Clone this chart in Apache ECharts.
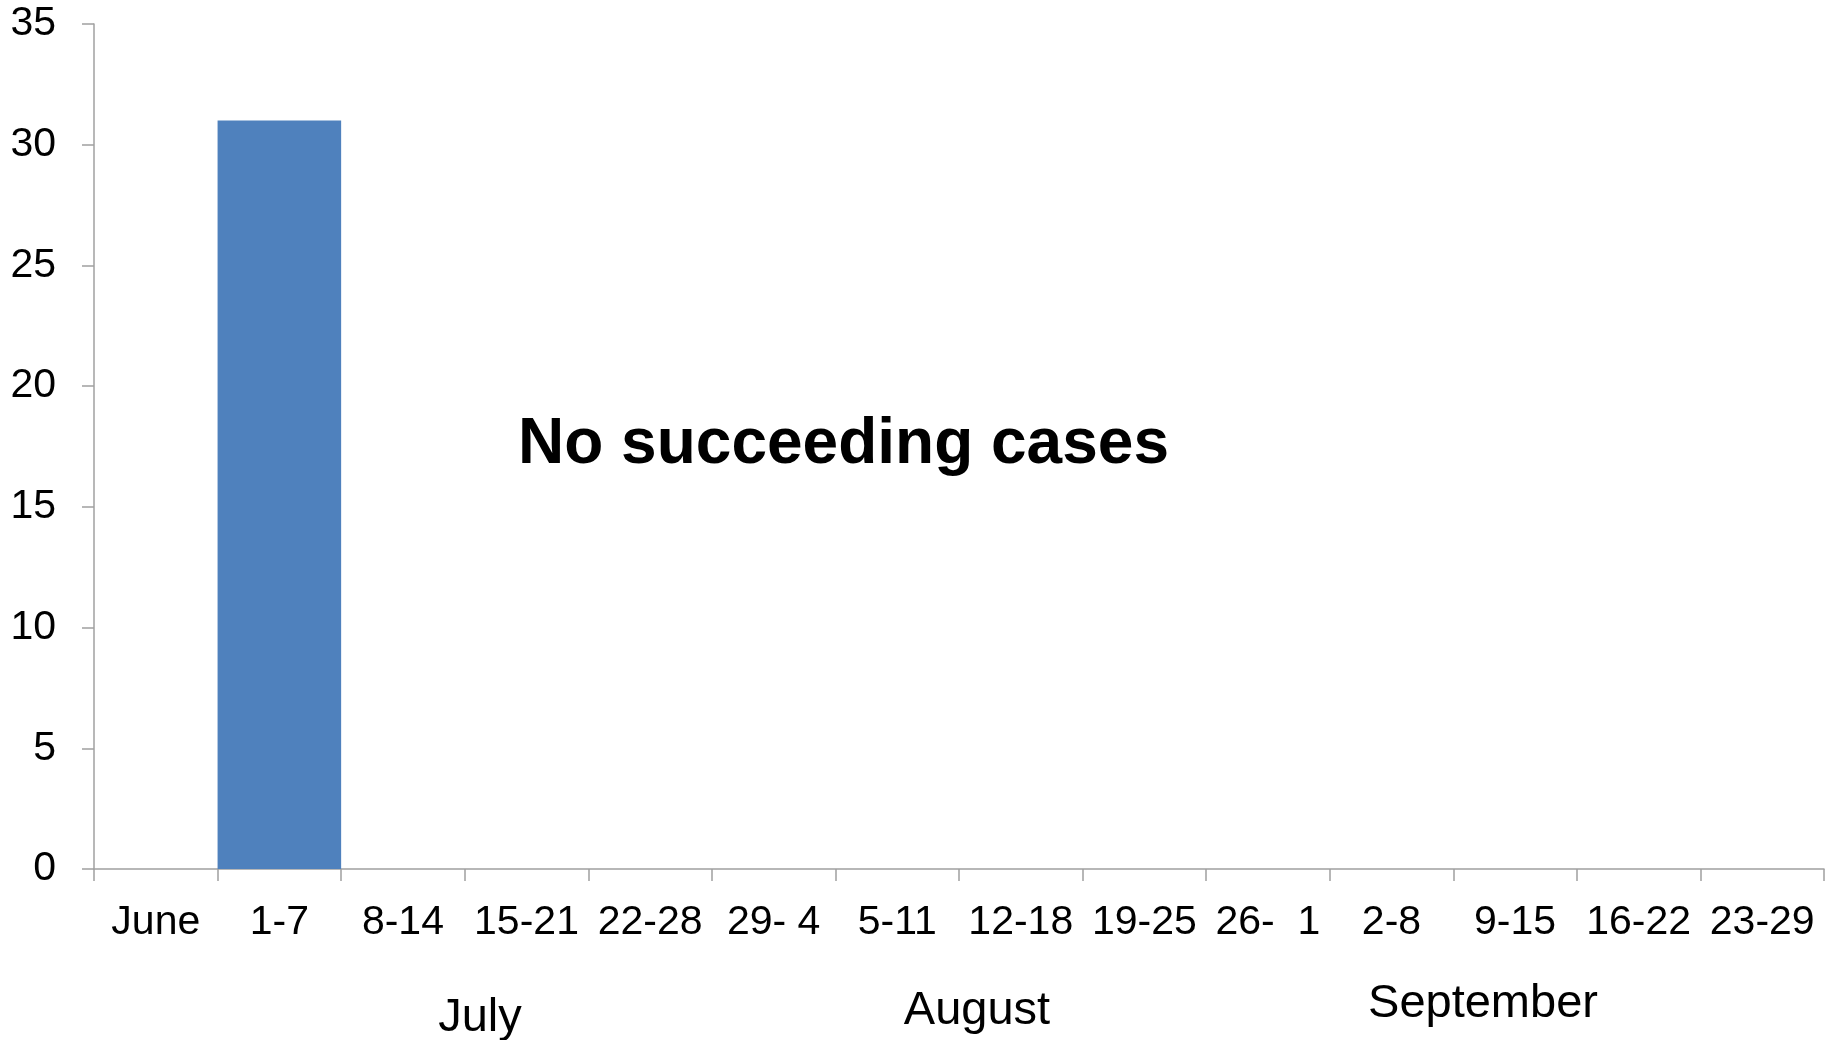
<!DOCTYPE html>
<html>
<head>
<meta charset="utf-8">
<script src="https://cdn.jsdelivr.net/npm/echarts@6/dist/echarts.min.js"></script>
<style>
  html, body { margin: 0; padding: 0; background: #ffffff; }
  #chart { width: 1837px; height: 1040px; }
</style>
</head>
<body>
<div id="chart"></div>
<script>
// ── Data ────────────────────────────────────────────────
const weeks = ["June", "1-7", "8-14", "15-21", "22-28", "29- 4", "5-11",
  "12-18", "19-25", "26-  1", "2-8", "9-15", "16-22", "23-29"];
const cases = [0, 31, 0, 0, 0, 0, 0, 0, 0, 0, 0, 0, 0, 0];
const yTicks = { min: 0, max: 35, step: 5 };
const months = ["July", "August", "September"];
const note = "No succeeding cases";

// ── Style ───────────────────────────────────────────────
const colores = {
  barra: "#4f81bd",
  eje: "#a0a0a0",
  texto: "#000000"
};
const fuente = "'Liberation Sans', Arial, sans-serif";

// month label anchors (pixels), same order as months
const monthPos = [[480, 1018], [977, 1011], [1483, 1004]];

const chart = echarts.init(document.getElementById("chart"));

const option = {
  backgroundColor: "#ffffff",
  animation: false,
  grid: { left: 94, right: 13, top: 24, bottom: 171, containLabel: false },
  xAxis: {
    type: "category",
    data: weeks,
    boundaryGap: true,
    axisLine: { show: true, lineStyle: { color: colores.eje, width: 1.5 } },
    axisTick: { show: true, length: 12, alignWithLabel: false, interval: 0,
      lineStyle: { color: colores.eje, width: 1.5 } },
    axisLabel: { interval: 0, margin: 33, color: colores.texto, fontSize: 41, fontFamily: fuente },
    splitLine: { show: false }
  },
  yAxis: {
    type: "value",
    min: yTicks.min,
    max: yTicks.max,
    interval: yTicks.step,
    axisLine: { show: true, lineStyle: { color: colores.eje, width: 1.5 } },
    axisTick: { show: true, length: 12, lineStyle: { color: colores.eje, width: 1.5 } },
    axisLabel: { margin: 38, color: colores.texto, fontSize: 41, fontFamily: fuente },
    splitLine: { show: false }
  },
  series: [
    {
      type: "bar",
      data: cases,
      barWidth: "100%",
      itemStyle: { color: colores.barra }
    }
  ],
  graphic: [
    {
      type: "text",
      x: 518,
      y: 445,
      style: {
        text: note,
        font: "bold 64px " + fuente,
        fill: colores.texto,
        textAlign: "left",
        textVerticalAlign: "middle"
      }
    },
    ...months.map((m, i) => ({
      type: "text",
      x: monthPos[i][0],
      y: monthPos[i][1],
      style: {
        text: m,
        font: "47px " + fuente,
        fill: colores.texto,
        textAlign: "center",
        textVerticalAlign: "middle"
      }
    }))
  ]
};

chart.setOption(option);
</script>
</body>
</html>
